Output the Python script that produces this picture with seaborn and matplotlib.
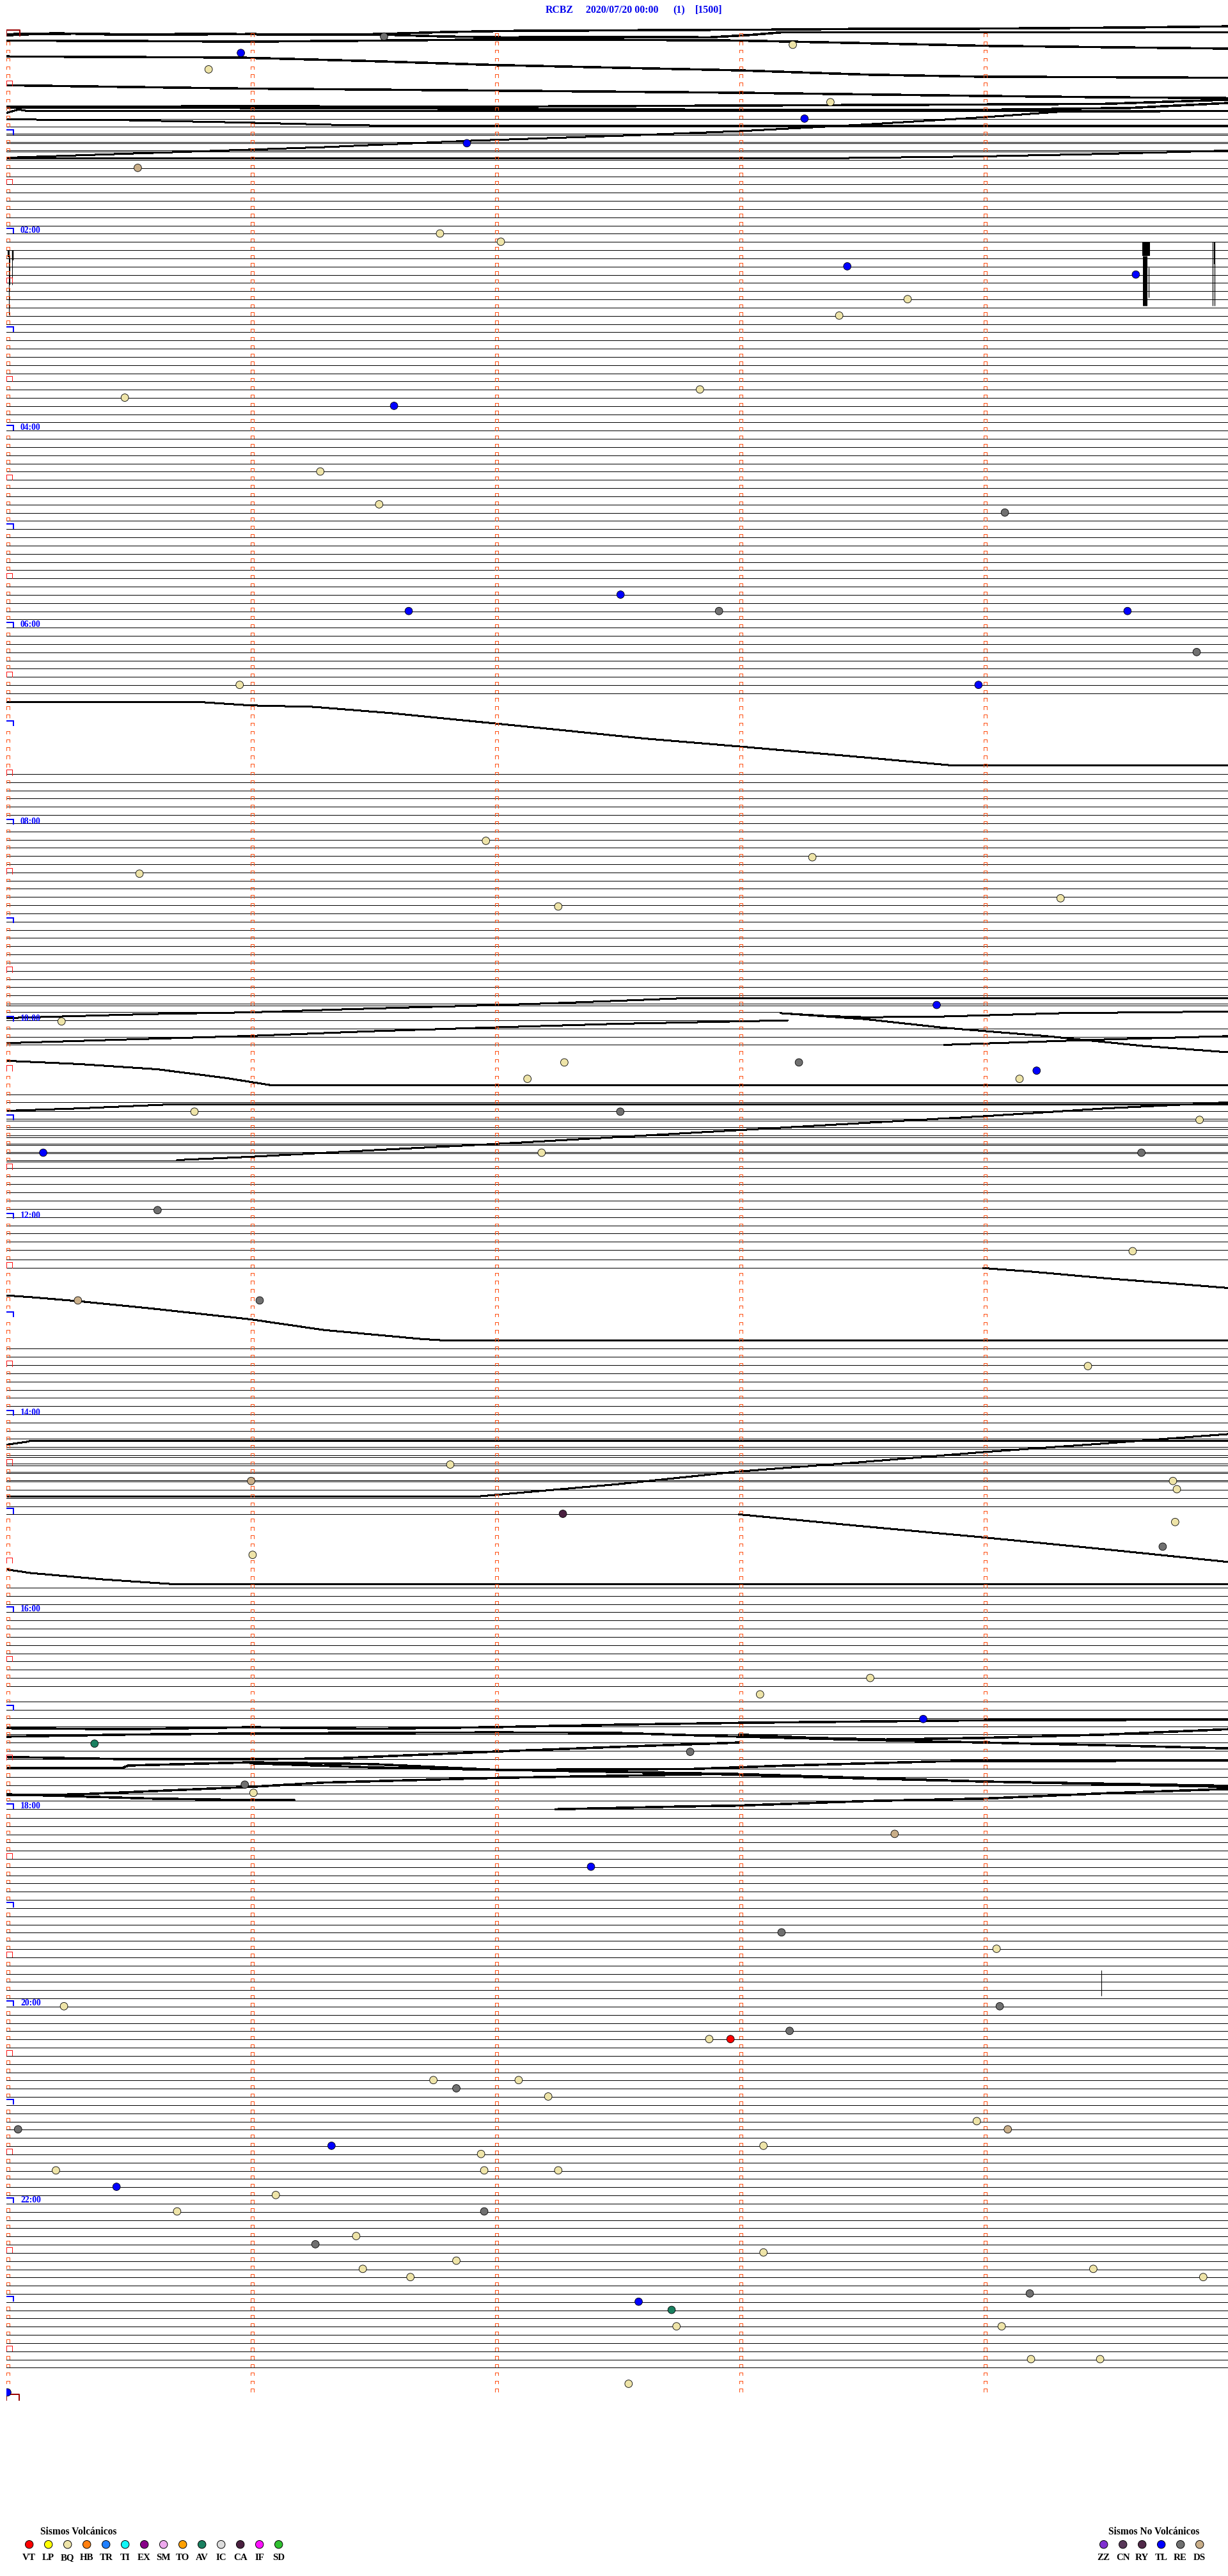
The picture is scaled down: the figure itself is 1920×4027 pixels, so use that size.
import numpy as np
import pandas as pd
import matplotlib
matplotlib.use("Agg")
import matplotlib.pyplot as plt
import seaborn as sns
from matplotlib.collections import LineCollection

sns.set_theme(style="white")
plt.rcParams['font.family'] = ['Liberation Serif', 'DejaVu Serif']

# ---------------- data ----------------
station = "RCBZ"
date_label = "2020/07/20 00:00"
page_label = "(1)"
scale_label = "[1500]"
hour_labels = ["02:00", "04:00", "06:00", "08:00", "10:00", "12:00",
               "14:00", "16:00", "18:00", "20:00", "22:00"]
hour_rows = [24, 48, 72, 96, 120, 144, 168, 192, 216, 240, 264]
n_rows = 288          # 5-minute lines, 00:00 .. 23:55
n_minutes = 5

# flat trace ranges: rows first..last drawn at row+offset between minute x0 and x1
flat_first  = [10, 11, 12, 17, 90, 118, 119, 120, 121, 123, 129, 131, 132, 132, 137, 137, 138, 149, 150, 160, 172, 180, 189, 203, 211, 215, 217]
flat_last   = [10, 16, 14, 80, 118, 118, 119, 120, 122, 123, 130, 131, 136, 136, 137, 137, 148, 149, 150, 176, 179, 180, 201, 210, 214, 216, 284]
flat_offset = [0.05, 0.02, -0.17, 0.03, -0.15, 0.07, -0.12, -0.13, -0.14, -0.14, -0.13, -0.10, -0.10, 0.10, -0.10, 0.06, -0.15, 0.04, 0.06, -0.12, 0.08, 0.07, 0.0, -0.12, 0.08, -0.06, 0.05]
flat_x0     = [0] * 27
flat_x1     = [5, 5, 5, 5, 5, 5, 3.17, 3.2, 5, 3.84, 5, 5, 5, 5, 0.7, 5, 5, 5, 4.0, 5, 5, 3.0, 5, 5, 5, 5, 5]

# noisy traces (minute, row position)
trace_t1 = [(0, -0.29), (0.3, -0.35), (0.6, -0.22), (1.0, -0.3), (1.3, -0.25), (1.52, -0.3), (1.8, -0.55), (2.04, -0.68), (2.5, -0.75), (2.88, -0.81), (3.2, -0.85), (3.52, -0.94), (3.9, -0.95), (4.16, -1.0), (4.6, -1.1), (5.0, -1.24)]
trace_t2 = [(0, -0.15), (0.2, -0.4), (0.5, -0.2), (0.8, -0.35), (1.2, -0.2), (1.52, -0.25), (1.8, 0.0), (2.04, 0.1), (2.5, 0.05), (2.88, 0.1), (3.05, -0.2), (3.17, -0.5), (4.0, -0.5), (5.0, -0.5)]
trace_t3 = [(0, 0.49), (0.5, 0.55), (1.0, 0.62), (1.5, 0.5), (2.0, 0.36), (2.5, 0.4), (3.0, 0.49), (3.5, 0.8), (4.0, 1.13), (4.5, 1.3), (5.0, 1.47)]
trace_t4 = [(0, 2.43), (0.5, 2.5), (0.95, 2.56), (1.5, 3.0), (2.0, 3.47), (2.5, 3.8), (3.0, 4.12), (3.52, 4.64), (4.0, 4.9), (4.5, 4.95), (5.0, 5.03)]
trace_t5 = [(0, 5.94), (0.95, 6.33), (2.0, 6.59), (3.0, 6.85), (4.0, 7.24), (4.5, 7.4), (5.0, 7.5)]
trace_t6 = [(0, 8.54), (1.0, 8.5), (2.0, 8.54), (3.0, 8.41), (4.0, 8.28), (4.5, 8.2), (5.0, 7.7)]
trace_t6b = [(0, 8.67), (1.0, 8.7), (2.0, 8.8), (3.0, 8.93), (4.0, 8.93), (4.6, 8.7), (5.0, 8.1)]
trace_e1 = [(0, 206.12), (0.5, 206.25), (1.0, 206.0), (1.5, 206.2), (2.0, 205.99), (2.5, 205.7), (3.0, 205.47), (4.0, 205.16), (5.0, 205.08)]
trace_e2 = [(0, 207.15), (0.5, 206.9), (1.0, 206.76), (2.0, 206.63), (2.5, 206.7), (3.0, 207.15), (3.5, 207.54), (4.0, 207.87), (4.5, 208.2), (5.0, 208.58)]
trace_e2b = [(3.0, 206.9), (3.3, 207.3), (3.6, 207.5), (4.0, 207.3), (4.5, 206.9), (5.0, 206.25)]
trace_e3 = [(0, 209.63), (0.5, 209.9), (1.0, 209.9), (1.35, 209.8), (2.0, 208.97), (2.5, 208.4), (3.0, 207.87)]
trace_e4 = [(0, 210.93), (0.48, 210.93), (0.5, 210.67), (1.0, 210.28), (1.5, 210.5), (2.0, 211.19), (3.0, 211.71), (4.0, 212.62), (5.0, 213.27)]
trace_e5 = [(1.0, 210.4), (1.5, 210.9), (2.0, 211.19), (2.8, 211.1), (3.2, 210.67), (3.84, 210.15), (5.0, 210.07)]
trace_e6 = [(1.0, 213.27), (1.3, 212.75), (2.0, 212.18), (2.9, 211.71), (3.2, 212.0), (4.0, 212.62), (5.0, 213.14)]
trace_e7 = [(0, 214.31), (0.3, 214.18), (1.0, 213.27)]
trace_e8 = [(0, 214.18), (0.6, 214.7), (1.0, 214.88), (1.18, 214.9)]
trace_e9 = [(2.25, 216.0), (2.77, 215.66), (3.0, 215.55), (3.52, 215.0), (4.0, 214.7), (4.5, 214.05), (5.0, 213.53)]

# drifting traces (minute, row position)
trace_t9 = [(0, 9.32), (0.05, 8.9), (0.09, 9.09), (5.0, 9.09)]
trace_t10 = [(0, 10.1), (0.5, 10.2), (1.0, 10.5), (1.4, 10.8), (1.5, 10.83), (5.0, 10.83)]
trace_t14 = [(0, 14.77), (0.65, 14.13), (1.3, 13.48), (1.9, 12.7), (2.55, 12.05), (3.0, 11.53), (3.5, 10.75), (4.0, 9.84), (4.3, 9.19), (5.0, 9.06)]
trace_t15 = [(0, 14.82), (3.4, 14.82), (4.0, 14.6), (4.5, 14.3), (5.0, 13.9)]
trace_r81 = [(0, 81.08), (0.8, 81.1), (1.0, 81.5), (1.26, 81.68), (1.58, 82.45), (1.93, 83.49), (2.28, 84.53), (2.6, 85.5), (3.0, 86.5), (3.5, 87.8), (3.86, 88.78), (5.0, 88.78)]
trace_d1 = [(0, 119.6), (0.23, 119.4), (0.6, 119.1), (1.0, 118.9), (1.42, 118.5), (1.9, 118.1), (2.23, 117.8), (2.5, 117.5), (2.81, 117.14), (5.0, 117.14)]
trace_d2 = [(3.17, 119.0), (3.52, 119.74), (3.84, 120.78), (4.26, 121.8), (4.65, 122.98), (5.0, 123.76)]
trace_d3 = [(3.17, 119.0), (3.36, 119.35), (3.52, 119.5), (3.84, 119.4), (4.32, 119.0), (5.0, 118.8)]
trace_d4 = [(0, 122.65), (0.5, 122.2), (1.0, 121.77), (1.5, 121.2), (2.0, 120.73), (2.5, 120.3), (3.0, 120.0), (3.2, 119.87)]
trace_d5 = [(3.84, 122.86), (4.0, 122.7), (4.5, 122.2), (5.0, 121.8)]
trace_d6 = [(0, 124.8), (0.3, 125.2), (0.62, 125.84), (0.9, 126.9), (1.09, 127.8), (5.0, 127.8)]
trace_d7 = [(0, 130.9), (0.3, 130.6), (0.7, 130.08), (5.0, 130.08)]
trace_d8 = [(0.7, 136.9), (1.0, 136.5), (1.5, 135.7), (2.0, 134.94), (2.5, 134.1), (3.0, 133.25), (3.5, 132.4), (4.0, 131.56), (4.5, 130.6), (5.0, 129.87)]
trace_f1 = [(4.0, 150.06), (4.2, 150.5), (4.5, 151.3), (4.8, 152.0), (5.0, 152.48)]
trace_f2 = [(0, 153.39), (0.1, 153.6), (0.3, 154.1), (0.6, 155.0), (1.0, 156.3), (1.3, 157.6), (1.7, 158.7), (1.78, 158.85), (5.0, 158.85)]
trace_f3 = [(0, 177.86), (1.94, 177.86), (2.5, 176.4), (3.0, 174.84), (3.5, 173.7), (4.0, 172.48), (4.49, 171.44), (5.0, 170.29)]
trace_f3b = [(0, 171.59), (0.09, 171.2), (0.1, 171.1), (5.0, 171.1)]
trace_f4 = [(3.0, 180.07), (3.5, 181.5), (4.0, 182.87), (4.49, 184.3), (5.0, 185.86)]
trace_f5 = [(0, 186.77), (0.1, 187.21), (0.4, 188.0), (0.7, 188.6), (5.0, 188.6)]

# spikes (vertical glitches): minute, top row, bottom row, width px
spike_minute = [0.0079, 0.011, 0.0149, 0.0262, 0.0241, 4.6655, 4.6618, 4.6759, 4.9377, 4.9455, 4.9468, 4.484]
spike_top    = [26.02, 26.02, 26.8, 26.02, 26.02, 25.03, 26.73, 28.13, 25.03, 25.03, 25.03, 235.6]
spike_bottom = [26.86, 33.9, 30.23, 27.27, 30.23, 26.73, 32.8, 31.79, 32.8, 32.8, 27.74, 238.7]
spike_width  = [2.0, 1.0, 1.0, 2.5, 1.0, 12.0, 7.0, 1.2, 1.2, 1.2, 2.0, 1.0]

# events (classified earthquakes)
ev_code = ["RE", "TL", "BQ", "BQ", "BQ", "TL", "TL", "DS", "BQ", "BQ", "TL", "TL", "BQ", "BQ", "BQ", "BQ", "TL", "BQ", "BQ", "RE",
           "TL", "TL", "RE", "TL", "RE", "BQ", "TL", "BQ", "BQ", "BQ", "BQ", "BQ", "TL", "BQ", "BQ", "RE", "BQ", "BQ", "TL", "BQ",
           "RE", "BQ", "TL", "BQ", "RE", "RE", "BQ", "DS", "RE", "BQ", "BQ", "DS", "BQ", "BQ", "CA", "BQ", "RE", "BQ", "BQ", "BQ",
           "TL", "AV", "RE", "RE", "BQ", "DS", "TL", "RE", "BQ", "RE", "BQ", "RE", "VT", "BQ", "BQ", "RE", "BQ", "BQ", "RE", "BQ",
           "DS", "BQ", "TL", "BQ", "BQ", "BQ", "BQ", "TL", "BQ", "BQ", "RE", "BQ", "RE", "BQ", "BQ", "BQ", "BQ", "BQ", "BQ", "RE",
           "TL", "AV", "BQ", "BQ", "BQ", "BQ", "BQ", "TL"]
ev_minute = [1.547, 0.961, 3.22, 0.829, 3.374, 3.268, 1.886, 0.539, 1.776, 2.025, 3.443, 4.624, 3.69, 3.41, 0.486, 2.84, 1.588, 1.286, 1.527, 4.088,
             2.515, 1.648, 2.918, 4.59, 4.873, 0.956, 3.98, 1.964, 0.546, 3.30, 2.26, 4.316, 3.809, 0.227, 2.285, 3.245, 2.134, 4.148, 4.218, 0.771,
             2.514, 4.885, 0.152, 2.192, 4.647, 0.62, 4.611, 0.294, 1.038, 4.428, 1.818, 1.003, 4.776, 4.792, 2.279, 4.785, 4.734, 1.009, 3.537, 3.086,
             3.754, 0.362, 2.80, 0.977, 1.0125, 3.637, 2.394, 3.174, 4.054, 4.067, 0.237, 3.207, 2.965, 2.878, 1.749, 1.843, 2.098, 2.219, 0.049, 3.973,
             4.10, 3.10, 1.332, 1.944, 0.204, 1.957, 2.26, 0.452, 1.104, 0.70, 1.957, 1.433, 1.266, 1.843, 1.46, 1.655, 3.10, 4.45, 4.90, 4.19,
             2.589, 2.724, 2.744, 4.075, 4.195, 4.478, 2.548, 0.005]
ev_row = [0, 2, 1, 4, 8, 10, 13, 16, 24, 25, 28, 29, 32, 34, 44, 43, 45, 53, 57, 58,
          68, 70, 70, 70, 75, 79, 79, 98, 102, 100, 106, 105, 118, 120, 125, 125, 127, 127, 126, 131,
          131, 132, 136, 136, 136, 143, 148, 154, 154, 162, 174, 176, 176, 177, 180, 181, 184, 185, 200, 202,
          205, 208, 209, 213, 214, 219, 223, 231, 233, 240, 240, 243, 244, 244, 249, 250, 249, 251, 255, 254,
          255, 257, 257, 258, 260, 260, 260, 262, 263, 265, 265, 268, 269, 271, 272, 273, 270, 272, 273, 275,
          276, 277, 279, 279, 283, 283, 286, 287.05]

# legend
volc_codes = ["VT", "LP", "BQ", "HB", "TR", "TI", "EX", "SM", "TO", "AV", "IC", "CA", "IF", "SD"]
volc_colors = ["#ff0000", "#ffff00", "#eee4a8", "#ff8010", "#2080ff", "#10f8f8", "#880088", "#eeaaee",
               "#ffa000", "#1a8060", "#dcdcdc", "#4a2040", "#ff10ff", "#30c030"]
nonv_codes = ["ZZ", "CN", "RY", "TL", "RE", "DS"]
nonv_colors = ["#8030d0", "#583858", "#502848", "#0000ff", "#707070", "#c9ae88"]

# ---------------- figure ----------------
W, H = 1920, 4027
fig = plt.figure(figsize=(W / 100, H / 100), dpi=100)
X0, PXMIN = 9.5, 382.0
Y0, PXROW = 57.1, 12.83
AX_BOT = 3800
ax = fig.add_axes([X0 / W, 1 - AX_BOT / H, n_minutes * PXMIN / W, AX_BOT / H])
mpx = 1.0 / PXMIN   # minutes per pixel
rpx = 1.0 / PXROW   # rows per pixel
PT = 0.72           # points per pixel


def frame(a):
    a.set_xlim(0, n_minutes)
    a.set_ylim((AX_BOT - Y0) / PXROW, -Y0 / PXROW)
    a.axis('off')


frame(ax)

# flat traces
segs = []
for f, l, o, a, b in zip(flat_first, flat_last, flat_offset, flat_x0, flat_x1):
    for r in range(f, l + 1):
        segs.append([(a, r + o), (b, r + o)])
ax.add_collection(LineCollection(segs, colors='black', linewidths=1.0 * PT, antialiaseds=False, zorder=2))


def traces_frame(trace_list):
    recs = []
    for i, tr in enumerate(trace_list):
        for j, (m, r) in enumerate(tr):
            recs.append({"trace": i, "order": j, "minute": m, "row": r})
    return pd.DataFrame(recs)


noisy = [trace_t1, trace_t2, trace_t3, trace_t4, trace_t5, trace_t6, trace_t6b,
         trace_e1, trace_e2, trace_e2b, trace_e3, trace_e4, trace_e5, trace_e6, trace_e7, trace_e8, trace_e9]
drift = [trace_t9, trace_t10, trace_t14, trace_t15, trace_r81, trace_d1, trace_d2, trace_d3, trace_d4,
         trace_d5, trace_d6, trace_d7, trace_d8, trace_f1, trace_f2, trace_f3, trace_f3b, trace_f4, trace_f5]
sns.lineplot(data=traces_frame(noisy), x="minute", y="row", units="trace", estimator=None, sort=False,
             color="black", linewidth=2.6 * PT, antialiased=False, ax=ax, legend=False, zorder=3)
sns.lineplot(data=traces_frame(drift), x="minute", y="row", units="trace", estimator=None, sort=False,
             color="black", linewidth=2.0 * PT, antialiased=False, ax=ax, legend=False, zorder=3)
frame(ax)

# spikes
ax.vlines(spike_minute, spike_top, spike_bottom, colors='black',
          linewidths=[w * PT for w in spike_width], zorder=3)

# minute marks
small, red, blue = [], [], []
for r in range(n_rows):
    for m in range(n_minutes):
        if m == 0 and r in (0, n_rows - 1):
            continue
        if m == 0 and r % 12 == 0:
            x_a, x_b, h = -0.2 * mpx, 11.2 * mpx, 8 * rpx
            blue.append([(x_a, r), (x_a, r - h), (x_b, r - h), (x_b, r)])
        elif m == 0 and r % 12 == 6:
            x_a, x_b, h = 0.5 * mpx, 9.2 * mpx, 8.3 * rpx
            red.append([(x_a, r), (x_a, r - h), (x_b, r - h), (x_b, r)])
        else:
            x_a, x_b = m + 0.4 * mpx, m + 5.6 * mpx
            small.append([(x_a, r - 0.03), (x_a, r - 0.38), (x_b, r - 0.38), (x_b, r - 0.03)])
ax.add_collection(LineCollection(small, colors='#ff5014', linewidths=1.0 * PT, antialiaseds=False, zorder=4))
ax.add_collection(LineCollection(red, colors='#ff1010', linewidths=1.0 * PT, antialiaseds=False, zorder=4))
ax.add_collection(LineCollection(blue, colors='#0000ff', linewidths=2.0 * PT, antialiaseds=False, zorder=4))

# start / end boxes
start_box = [(0.0, 0.0), (0.0, -0.81), (21.2 * mpx, -0.81), (21.2 * mpx, 0.0)]
end_box = [(0.5 * mpx, 288.04), (0.5 * mpx, 287.26), (20.5 * mpx, 287.26), (20.5 * mpx, 288.04)]
ax.add_collection(LineCollection([start_box, end_box], colors='#990000', linewidths=2.0 * PT, zorder=4))

# hour labels
for lab, r in zip(hour_labels, hour_rows):
    ax.text(22.5 * mpx, r - 0.08, lab, color='#0000ff', fontsize=9.8, fontweight='bold',
            ha='left', va='baseline', zorder=6)

# events
palette = dict(zip(volc_codes + nonv_codes, volc_colors + nonv_colors))
edf = pd.DataFrame({"code": ev_code, "minute": ev_minute, "row": ev_row})
sns.scatterplot(data=edf, x="minute", y="row", hue="code", palette=palette, s=72,
                edgecolor='black', linewidth=0.6, legend=False, ax=ax, zorder=7)
frame(ax)

# ---------------- overlay axes (title and legend) ----------------
axl = fig.add_axes([0, 0, 1, 1])
axl.set_xlim(0, W)
axl.set_ylim(H, 0)
axl.axis('off')
tcol = '#0000ee'
for txt, xp in zip([station, date_label, page_label, scale_label], [853, 915.5, 1052, 1087.3]):
    axl.text(xp, 16, txt, color=tcol, fontsize=11.4, fontweight='bold', ha='left', va='center')

axl.text(63, 3962, "Sismos Volcánicos", fontsize=11.2, fontweight='bold', ha='left', va='baseline', color='black')
axl.text(1733, 3962, "Sismos No Volcánicos", fontsize=11.2, fontweight='bold', ha='left', va='baseline', color='black')
ldf = pd.DataFrame({
    "code": volc_codes + nonv_codes,
    "x": [45.7 + 30 * i for i in range(len(volc_codes))] + [1725.7 + 30 * i for i in range(len(nonv_codes))],
    "y": [3977.7] * (len(volc_codes) + len(nonv_codes)),
})
sns.scatterplot(data=ldf, x="x", y="y", hue="code", palette=palette, s=80, edgecolor='black',
                linewidth=0.7, legend=False, ax=axl)
for c, xp in zip(ldf["code"], ldf["x"]):
    axl.text(xp, 4002, c, fontsize=10.8, fontweight='bold', ha='center', va='baseline', color='black')
axl.set_xlim(0, W)
axl.set_ylim(H, 0)
axl.axis('off')

fig.savefig("out.png", dpi=100, facecolor='white')
